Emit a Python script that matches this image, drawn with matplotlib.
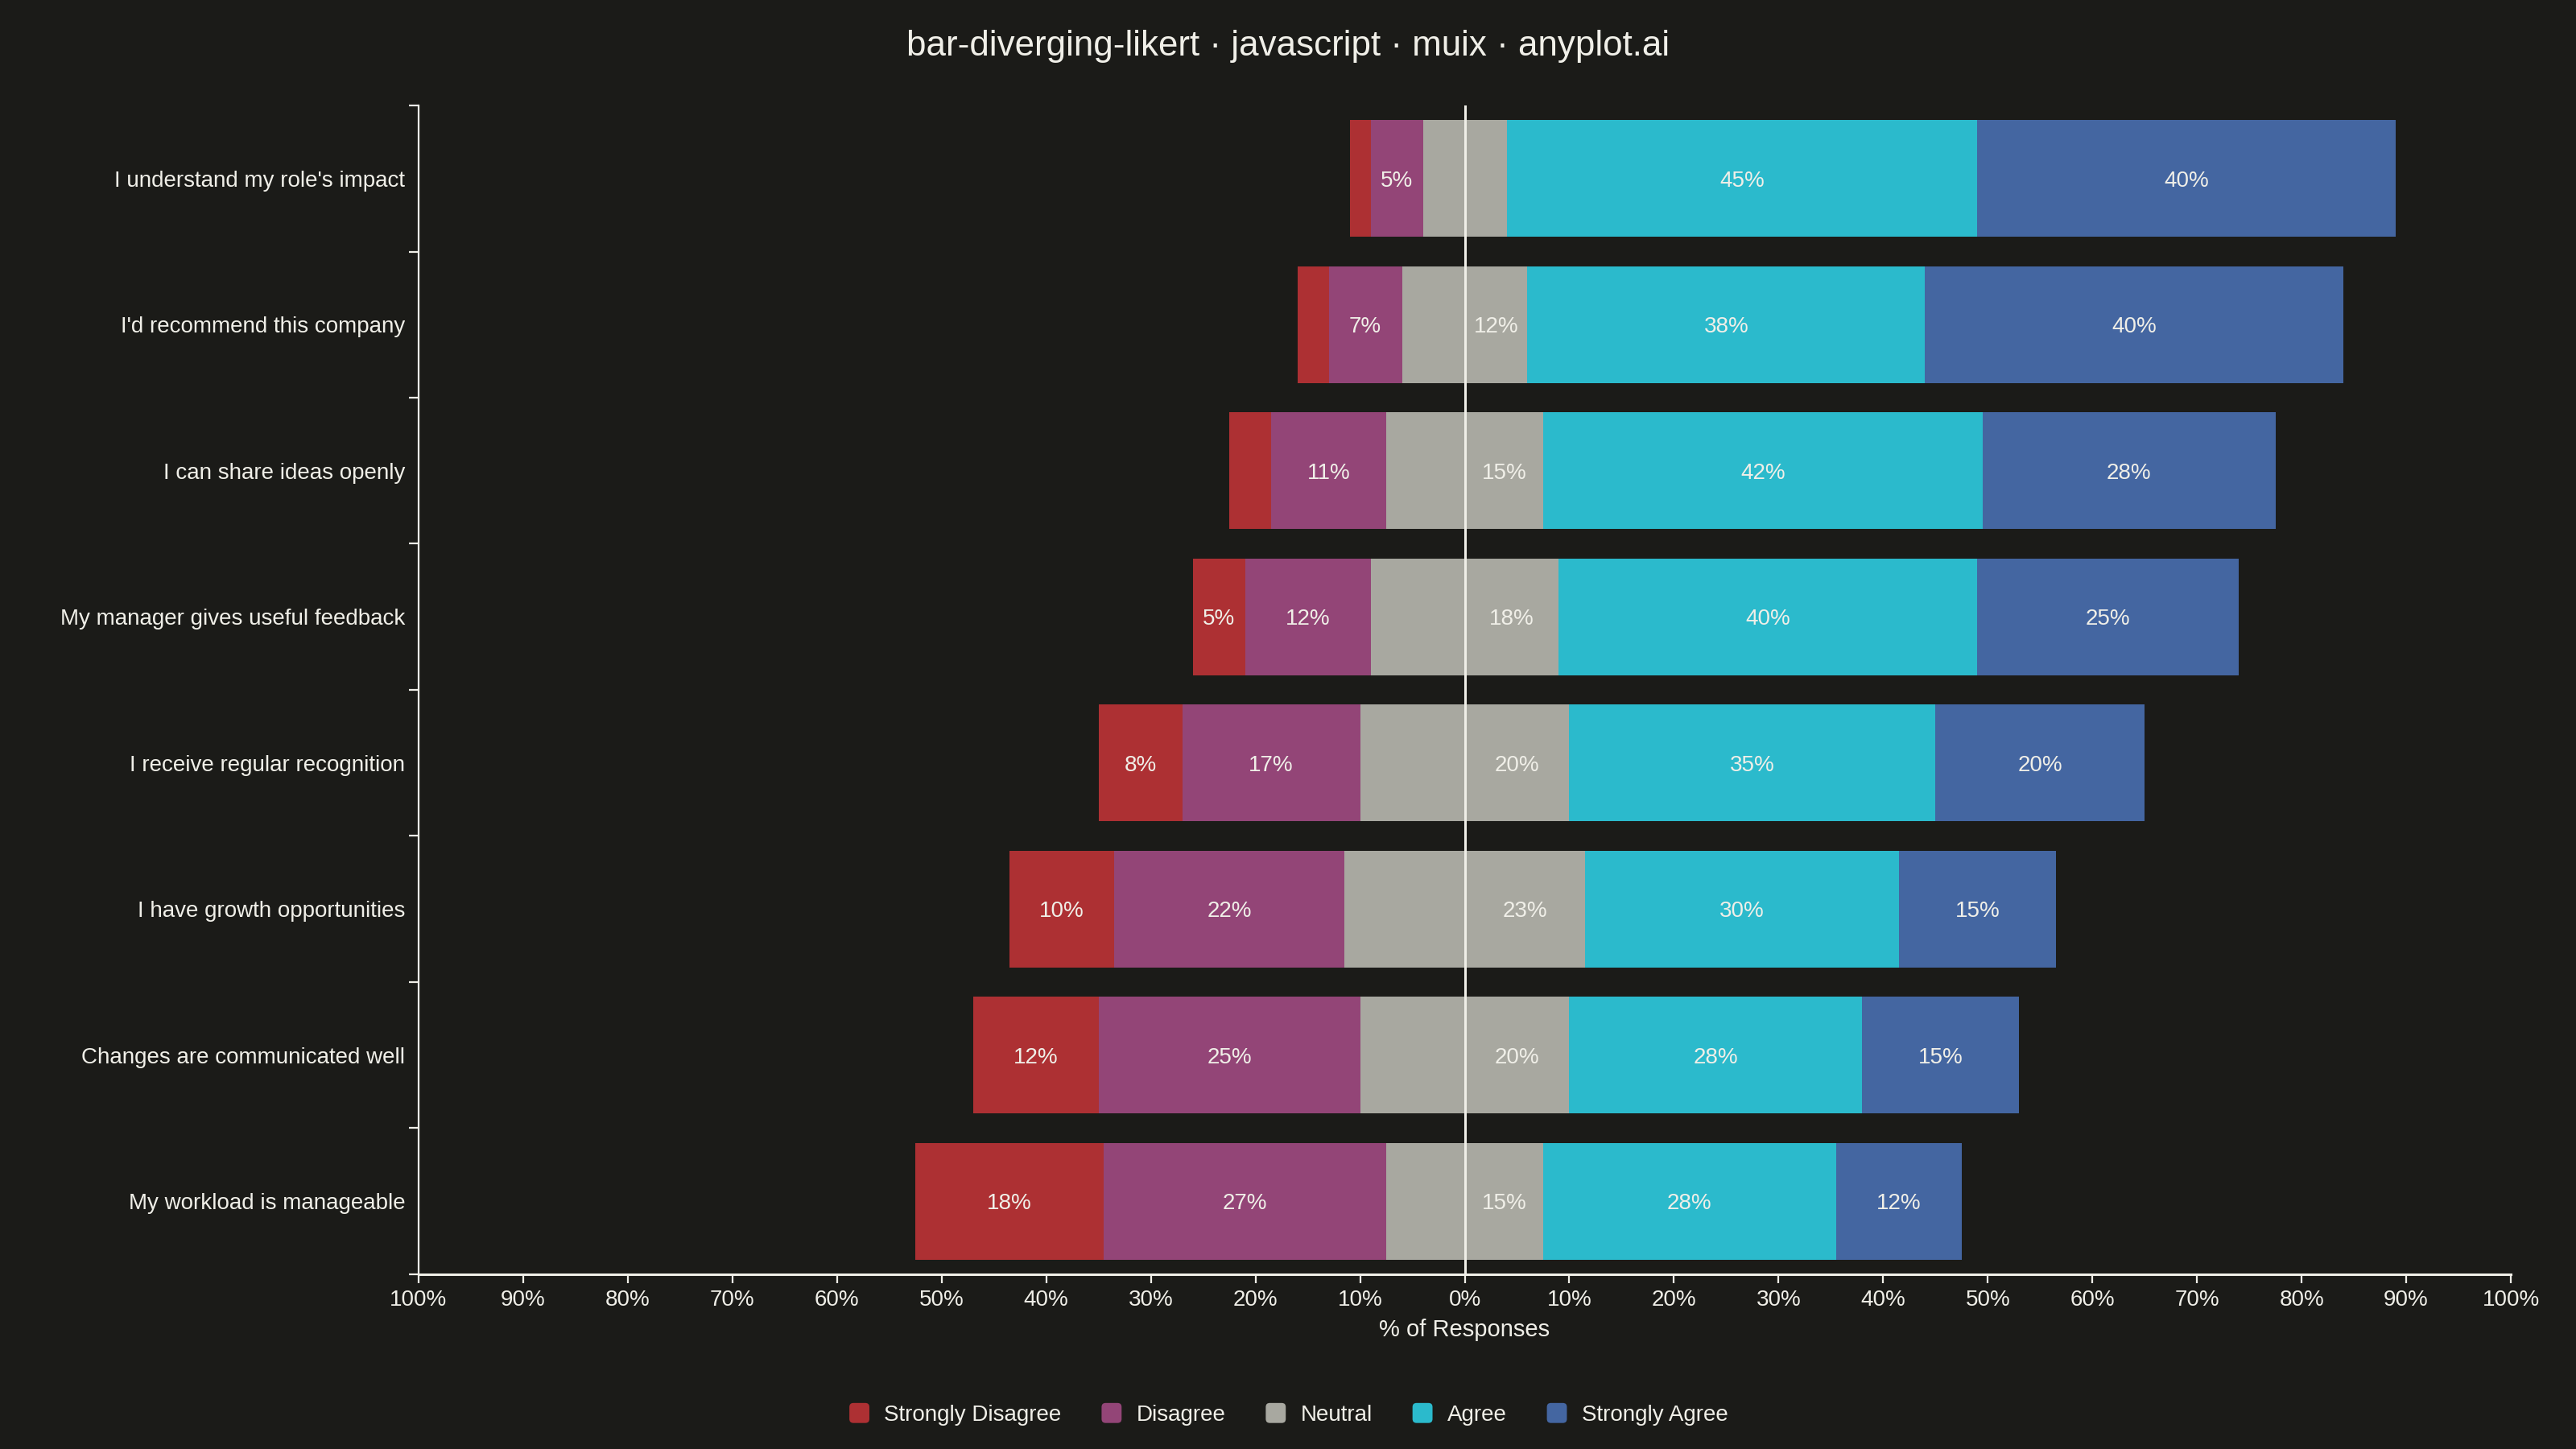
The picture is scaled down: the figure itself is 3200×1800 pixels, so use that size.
import numpy as np
import matplotlib.pyplot as plt
from matplotlib.patches import FancyBboxPatch, Patch
from matplotlib.legend_handler import HandlerPatch

# survey statements, top to bottom
questions = [
    "I understand my role's impact",
    "I'd recommend this company",
    "I can share ideas openly",
    "My manager gives useful feedback",
    "I receive regular recognition",
    "I have growth opportunities",
    "Changes are communicated well",
    "My workload is manageable",
]

strongly_disagree = [2, 3, 4, 5, 8, 10, 12, 18]
disagree = [5, 7, 11, 12, 17, 22, 25, 27]
neutral = [8, 12, 15, 18, 20, 23, 20, 15]
agree = [45, 38, 42, 40, 35, 30, 28, 28]
strongly_agree = [40, 40, 28, 25, 20, 15, 15, 12]

levels = ["Strongly Disagree", "Disagree", "Neutral", "Agree", "Strongly Agree"]
colors = ["#AD3033", "#934577", "#A8A8A0", "#2BBACC", "#4466A1"]
xticks = [-100, -90, -80, -70, -60, -50, -40, -30, -20, -10, 0,
          10, 20, 30, 40, 50, 60, 70, 80, 90, 100]

BG = "#1B1B18"
FG = "#F0EFE8"

plt.rcParams['font.family'] = ['Liberation Sans', 'DejaVu Sans']


class RoundBoxHandler(HandlerPatch):
    def create_artists(self, legend, orig_handle, xdescent, ydescent,
                       width, height, fontsize, trans):
        s = min(width, height)
        x0 = -xdescent + (width - s) / 2
        y0 = -ydescent + (height - s) / 2
        p = FancyBboxPatch((x0, y0), s, s,
                           boxstyle="round,pad=0,rounding_size=%f" % (s * 0.2),
                           facecolor=orig_handle.get_facecolor(),
                           edgecolor="none", transform=trans)
        return [p]


fig = plt.figure(figsize=(16, 9), dpi=200, facecolor=BG)
ax = fig.add_axes([0.1625, 0.1206, 0.8122, 0.8066])
ax.set_facecolor(BG)

y = np.arange(len(questions))
sd = np.array(strongly_disagree)
d = np.array(disagree)
n = np.array(neutral)
a = np.array(agree)
sa = np.array(strongly_agree)

half = n / 2
# (left edge, width, colour index, value shown in label)
segments = [
    (-half - d - sd, sd, 0, sd),
    (-half - d, d, 1, d),
    (-half, half, 2, None),
    (np.zeros(len(y)), half, 2, n),
    (half, a, 3, a),
    (half + a, sa, 4, sa),
]
bar_h = 0.8
for left, width, ci, vals in segments:
    ax.barh(y, width, left=left, height=bar_h, color=colors[ci],
            edgecolor="none", zorder=2)
    if vals is None:
        # neutral label sits on the right half only
        continue
    for yi, l, w, v in zip(y, left, width, vals):
        if w >= 5:
            ax.text(l + w / 2, yi, f"{int(v)}%", ha="center",
                    va="center_baseline", color=FG, fontsize=10, zorder=3)

ax.axvline(0, color=FG, lw=1.1, zorder=4)

ax.set_xlim(-100, 100)
ax.set_ylim(len(questions) - 0.5, -0.5)
ax.set_xticks(xticks)
ax.set_xticklabels([f"{abs(t)}%" for t in xticks])
ax.set_yticks(y)
ax.set_yticklabels(questions)
ax.set_yticks(np.arange(len(questions) + 1) - 0.5, minor=True)
ax.tick_params(axis="y", which="major", length=0, pad=6, colors=FG, labelsize=10)
ax.tick_params(axis="y", which="minor", length=4.3, width=0.8, color=FG)
ax.tick_params(axis="x", length=4, width=0.8, colors=FG, labelsize=10, pad=3)
ax.set_xlabel("% of Responses", color=FG, fontsize=10.5, labelpad=3.5)

for side in ["top", "right"]:
    ax.spines[side].set_visible(False)
ax.spines["left"].set_color(FG)
ax.spines["left"].set_linewidth(0.8)
ax.spines["bottom"].set_color(FG)
ax.spines["bottom"].set_linewidth(1.1)

fig.text(0.5, 0.968, "bar-diverging-likert · javascript · muix · anyplot.ai",
         ha="center", va="center", color=FG, fontsize=15.8)

handles = [Patch(facecolor=c, label=l) for c, l in zip(colors, levels)]
leg = fig.legend(handles=handles, loc="center", bbox_to_anchor=(0.5, 0.024),
                 ncol=5, frameon=False, fontsize=10, labelcolor=FG,
                 handlelength=1.0, handleheight=1.0, handletextpad=0.6,
                 columnspacing=1.75,
                 handler_map={Patch: RoundBoxHandler()})

fig.savefig("out.png", dpi=200, facecolor=BG)
